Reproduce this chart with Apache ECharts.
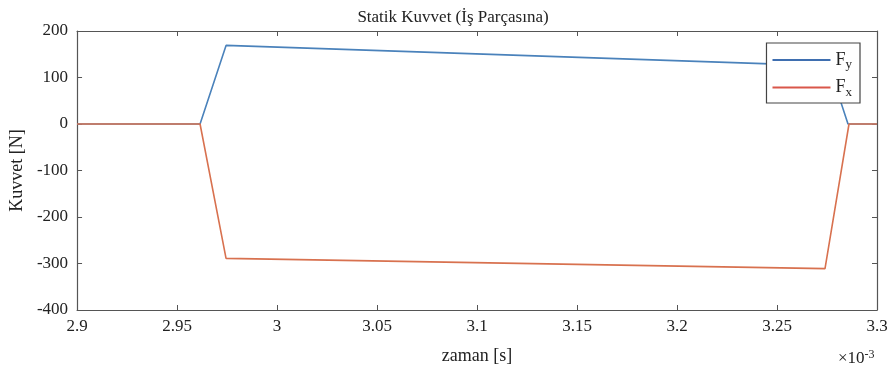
<!DOCTYPE html>
<html>
<head>
<meta charset="utf-8">
<script src="https://cdn.jsdelivr.net/npm/echarts@6/dist/echarts.min.js"></script>
<style>
  html, body { margin: 0; padding: 0; background: #fff; }
  #chart { width: 891px; height: 376px; }
</style>
</head>
<body>
<div id="chart"></div>
<script>
// time in ms (axis shown x 10^-3 s)
const timeFy = [2.9, 2.9615, 2.9745, 3.276, 3.2855, 3.3];
const forceFy = [0, 0, 169, 125, 0, 0];
const timeFx = [2.9, 2.9615, 2.9745, 3.274, 3.286, 3.3];
const forceFx = [0, 0, -289, -311, 0, 0];
const seriesNames = ['Fy', 'Fx'];

const font = '"Liberation Serif", "Times New Roman", serif';
const boxColor = '#555';

function pairs(t, v) {
    return t.map((x, i) => [x, v[i]]);
}

const chart = echarts.init(document.getElementById('chart'));

const tickStyle = { show: true, inside: true, length: 5, lineStyle: { color: boxColor } };

const option = {
    animation: false,
    backgroundColor: '#fff',
    title: {
        text: 'Statik Kuvvet (İş Parçasına)',
        left: 448, top: 4, textAlign: 'center',
        textStyle: { fontFamily: font, fontSize: 17, fontWeight: 'normal', color: '#222' }
    },
    grid: { left: 77, right: 14, top: 31, bottom: 66 },
    legend: {
        right: 31, top: 43,
        orient: 'vertical',
        itemWidth: 58, itemHeight: 2, itemGap: 7,
        padding: [8, 8, 4, 6],
        borderColor: '#444', borderWidth: 1.2,
        backgroundColor: '#fff',
        icon: 'rect',
        data: seriesNames,
        formatter: n => '{f|F}{s|' + n.slice(1) + '}',
        textStyle: {
            rich: {
                f: { fontFamily: font, fontSize: 18, color: '#222' },
                s: { fontFamily: font, fontSize: 13, color: '#222', verticalAlign: 'bottom', padding: [10, 0, 0, 0] }
            }
        }
    },
    xAxis: [{
        type: 'value', min: 2.9, max: 3.3, interval: 0.05,
        name: 'zaman [s]', nameLocation: 'middle', nameGap: 37,
        nameTextStyle: { fontFamily: font, fontSize: 18, color: '#222' },
        axisLine: { show: true, onZero: false, lineStyle: { color: boxColor, width: 1.2 } },
        axisTick: tickStyle,
        axisLabel: { fontFamily: font, fontSize: 17, color: '#222', margin: 8,
            formatter: v => String(+v.toFixed(2)) },
        splitLine: { show: false }
    }, {
        type: 'value', min: 2.9, max: 3.3, interval: 0.05, position: 'top',
        axisLine: { show: true, onZero: false, lineStyle: { color: boxColor, width: 1.2 } },
        axisTick: tickStyle, axisLabel: { show: false }, splitLine: { show: false }
    }],
    yAxis: [{
        type: 'value', min: -400, max: 200, interval: 100,
        name: 'Kuvvet [N]', nameLocation: 'middle', nameGap: 46,
        nameTextStyle: { fontFamily: font, fontSize: 18, color: '#222' },
        axisLine: { show: true, onZero: false, lineStyle: { color: boxColor, width: 1.2 } },
        axisTick: tickStyle,
        axisLabel: { fontFamily: font, fontSize: 17, color: '#222', margin: 9 },
        splitLine: { show: false }
    }, {
        type: 'value', min: -400, max: 200, interval: 100, position: 'right',
        axisLine: { show: true, onZero: false, lineStyle: { color: boxColor, width: 1.2 } },
        axisTick: tickStyle, axisLabel: { show: false }, splitLine: { show: false }
    }],
    graphic: [{
        type: 'text', left: 838, top: 349,
        style: { text: '×10{e|-3}', fontFamily: font, fontSize: 17, fill: '#222',
            rich: { e: { fontFamily: font, fontSize: 12, verticalAlign: 'top', padding: [0, 0, 8, 0] } } }
    }],
    series: [{
        name: 'Fy', type: 'line', showSymbol: false,
        data: pairs(timeFy, forceFy),
        itemStyle: { color: '#3f6fb0' },
        lineStyle: { color: '#4a82bb', width: 1.6 },
        z: 2
    }, {
        name: 'Fx', type: 'line', showSymbol: false,
        data: pairs(timeFx, forceFx),
        itemStyle: { color: '#d9574a' },
        lineStyle: { color: '#d8714f', width: 1.6 },
        z: 3
    }]
};

chart.setOption(option);
</script>
</body>
</html>
